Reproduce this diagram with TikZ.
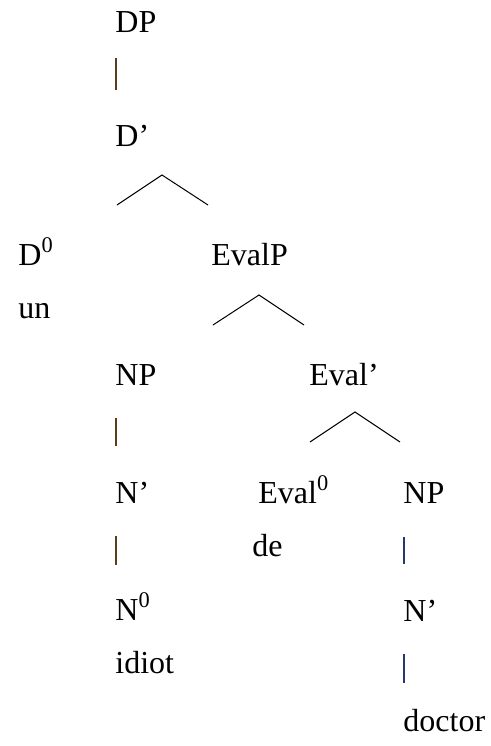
\documentclass[tikz,border=0pt]{standalone}
\usepackage{fontspec}
\setmainfont{Liberation Serif}
\usepackage{tikz}

\definecolor{barbrown}{rgb}{0.36,0.24,0.10}
\definecolor{barblue}{rgb}{0.14,0.22,0.42}

\begin{document}
\begin{tikzpicture}[x=0.5pt, y=-0.5pt,
    lbl/.style={anchor=base west, inner sep=0pt, font=\fontsize{16pt}{19pt}\selectfont},
    bar/.style={line width=0.6pt},
    branch/.style={line width=0.5pt}]

                \useasboundingbox (0,0) rectangle (491,746);

                % labels
                \node[lbl] (dp) at (115,32) {DP};
                \node[lbl] (dbar) at (115,146) {D’};
                \node[lbl] (d0) at (18,265) {D\textsuperscript{0}};
                \node[lbl] (un) at (18,318) {un};
                \node[lbl] (evalp) at (211,265) {EvalP};
                \node[lbl] (np) at (115,385) {NP};
                \node[lbl] (evalbar) at (309,385) {Eval’};
                \node[lbl] (nbar) at (115,503) {N’};
                \node[lbl] (eval0) at (258,503) {Eval\textsuperscript{0}};
                \node[lbl] (de) at (252,556) {de};
                \node[lbl] (np2) at (403,503) {NP};
                \node[lbl] (n0) at (115,620) {N\textsuperscript{0}};
                \node[lbl] (idiot) at (115,673) {idiot};
                \node[lbl] (nbar2) at (403,621) {N’};
                \node[lbl] (doctor) at (403,731) {doctor};

                % branch points
                \coordinate (dtop) at (116,58);   \coordinate (dbot) at (116,90);
                \coordinate (ntop) at (116,418);  \coordinate (nbot) at (116,446);
                \coordinate (mtop) at (116,536);  \coordinate (mbot) at (116,565);
                \coordinate (rtop) at (404,537);  \coordinate (rbot) at (404,564);
                \coordinate (stop) at (404,654);  \coordinate (sbot) at (404,683);

                \coordinate (a1) at (162,175);
                \coordinate (a2) at (259,295);
                \coordinate (a3) at (355,412);

                \draw[bar, barbrown] (dtop) -- (dbot);
                \draw[bar, barbrown] (ntop) -- (nbot);
                \draw[bar, barbrown] (mtop) -- (mbot);
                \draw[bar, barblue] (rtop) -- (rbot);
                \draw[bar, barblue] (stop) -- (sbot);

                \draw[branch] (117,205) -- (a1) -- (208,205);
                \draw[branch] (213,325) -- (a2) -- (304,325);
                \draw[branch] (310,442) -- (a3) -- (400,442);

\end{tikzpicture}
\end{document}
